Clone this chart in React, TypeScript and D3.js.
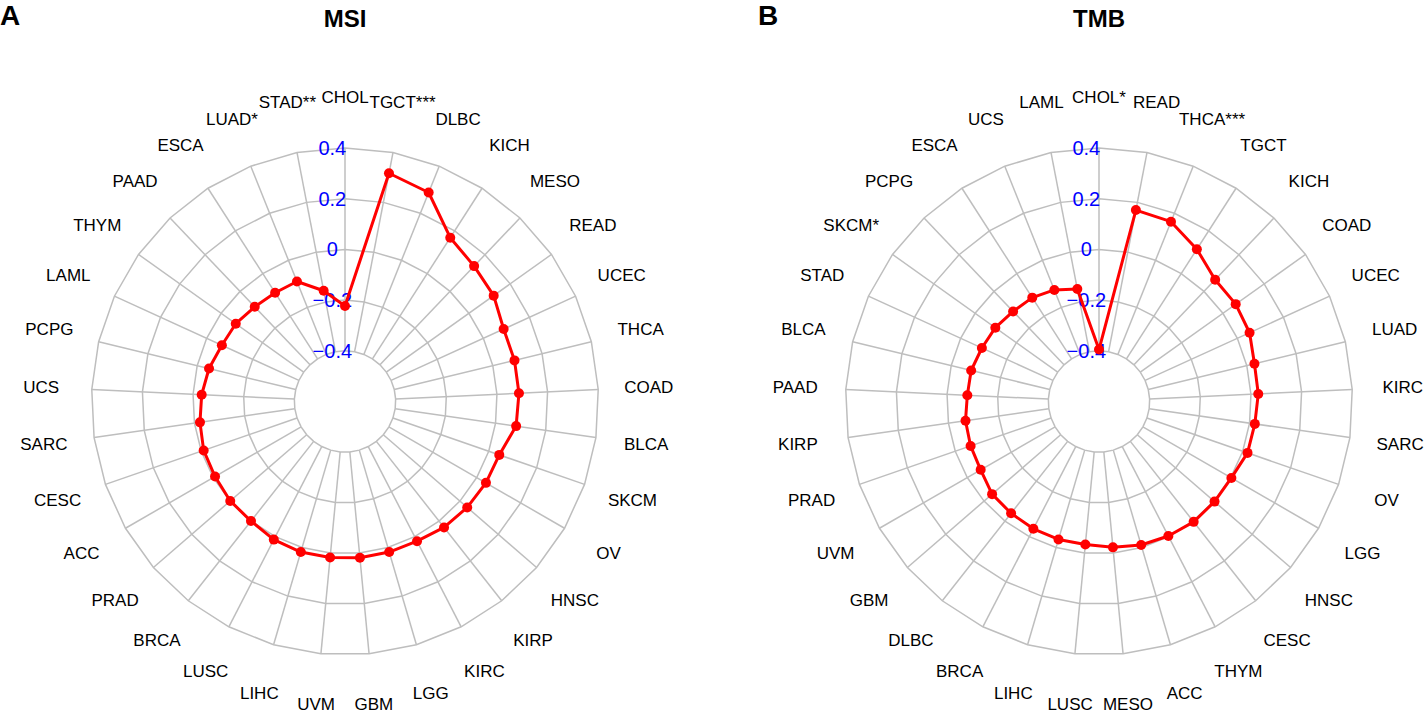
import React from "react";
import * as d3 from "d3";

// MSI panel, categories clockwise from 12 o'clock
const msiLabels = [
  "CHOL", "TGCT***", "DLBC", "KICH", "MESO", "READ", "UCEC", "THCA", "COAD",
  "BLCA", "SKCM", "OV", "HNSC", "KIRP", "KIRC", "LGG", "GBM", "UVM", "LIHC",
  "LUSC", "BRCA", "PRAD", "ACC", "CESC", "SARC", "UCS", "PCPG", "LAML", "THYM",
  "PAAD", "ESCA", "LUAD*", "STAD**",
];
const msiValues = [
  -0.223, 0.317, 0.288, 0.168, 0.138, 0.12, 0.088, 0.088, 0.087,
  0.082, 0.044, 0.042, 0.038, 0.032, 0.02, 0.019, 0.019, 0.018, 0.019,
  0.013, 0.0, -0.001, -0.008, -0.01, -0.022, -0.034, -0.048, -0.066, -0.071,
  -0.084, -0.09, -0.09, -0.155,
];

// TMB panel
const tmbLabels = [
  "CHOL*", "READ", "THCA***", "TGCT", "KICH", "COAD", "UCEC", "LUAD", "KIRC",
  "SARC", "OV", "LGG", "HNSC", "CESC", "THYM", "ACC", "MESO", "LUSC", "LIHC",
  "BRCA", "DLBC", "GBM", "UVM", "PRAD", "KIRP", "PAAD", "BLCA", "STAD", "SKCM*",
  "PCPG", "ESCA", "UCS", "LAML",
];
const tmbValues = [
  -0.395, 0.169, 0.164, 0.114, 0.064, 0.062, 0.053, 0.031, 0.029,
  0.021, 0.02, 0.003, 0.003, 0.004, -0.003, -0.01, -0.022, -0.033, -0.033,
  -0.035, -0.039, -0.042, -0.061, -0.064, -0.068, -0.08, -0.081, -0.092, -0.098,
  -0.109, -0.113, -0.126, -0.148,
];

const ringTicks = [-0.4, -0.2, 0, 0.2, 0.4];
const tickText = ["\u22120.4", "\u22120.2", "0", "0.2", "0.4"];

const W = 1428;
const H = 718;
const R = 253.5;
const CY = 401.5;
const FONT = "'Liberation Sans', Arial, Helvetica, sans-serif";

interface RadarProps {
  cx: number;
  title: string;
  tag: string;
  tagX: number;
  labels: string[];
  values: number[];
}

const Radar: React.FC<RadarProps> = ({ cx, title, tag, tagX, labels, values }) => {
  const n = labels.length;
  const angle = d3
    .scaleLinear()
    .domain([0, n])
    .range([0, 2 * Math.PI]);
  const radius = d3
    .scaleLinear()
    .domain([-0.4, 0.4])
    .range([R * 0.2, R]);

  const idx = d3.range(n);
  const ringPath = (v: number) =>
    d3
      .lineRadial<number>()
      .angle((i) => angle(i))
      .radius(() => radius(v))
      .curve(d3.curveLinearClosed)(idx) as string;

  const dataPath = d3
    .lineRadial<number>()
    .angle((_, i) => angle(i))
    .radius((d) => radius(d))
    .curve(d3.curveLinearClosed)(values) as string;

  const pt = (i: number, r: number) => {
    const a = angle(i);
    return [r * Math.sin(a), -r * Math.cos(a)];
  };

  return (
    <g>
      <text
        x={tagX}
        y={25}
        fontFamily={FONT}
        fontWeight="bold"
        fontSize={28}
        fill="#000"
      >
        {tag}
      </text>
      <text
        x={cx}
        y={27}
        textAnchor="middle"
        fontFamily={FONT}
        fontWeight="bold"
        fontSize={24}
        fill="#000"
      >
        {title}
      </text>
      <g transform={`translate(${cx},${CY})`}>
        {ringTicks.map((t) => (
          <path key={t} d={ringPath(t)} fill="none" stroke="#BEBEBE" strokeWidth={1.5} />
        ))}
        {idx.map((i) => {
          const [x1, y1] = pt(i, radius(-0.4));
          const [x2, y2] = pt(i, radius(0.4));
          return (
            <line key={i} x1={x1} y1={y1} x2={x2} y2={y2} stroke="#BEBEBE" strokeWidth={1.5} />
          );
        })}
        {ringTicks.map((t, k) => (
          <text
            key={t}
            x={-0.05 * R}
            y={-radius(t)}
            textAnchor="middle"
            dominantBaseline="central"
            fontFamily={FONT}
            fontSize={20}
            fill="#0000FF"
          >
            {tickText[k]}
          </text>
        ))}
        {labels.map((l, i) => {
          const [x, y] = pt(i, R * 1.2);
          return (
            <text
              key={l}
              x={x}
              y={y}
              textAnchor="middle"
              dominantBaseline="central"
              fontFamily={FONT}
              fontSize={17}
              fill="#000"
            >
              {l}
            </text>
          );
        })}
        <path d={dataPath} fill="none" stroke="#FF0000" strokeWidth={3} strokeLinejoin="round" />
        {values.map((v, i) => {
          const [x, y] = pt(i, radius(v));
          return <circle key={i} cx={x} cy={y} r={5} fill="#FF0000" />;
        })}
      </g>
    </g>
  );
};

export default function App() {
  return (
    <svg
      width={W}
      height={H}
      style={{ position: "absolute", left: 0, top: 0, background: "#fff" }}
    >
      <rect width={W} height={H} fill="#fff" />
      <Radar cx={345} title="MSI" tag="A" tagX={0} labels={msiLabels} values={msiValues} />
      <Radar cx={1099} title="TMB" tag="B" tagX={758} labels={tmbLabels} values={tmbValues} />
    </svg>
  );
}
